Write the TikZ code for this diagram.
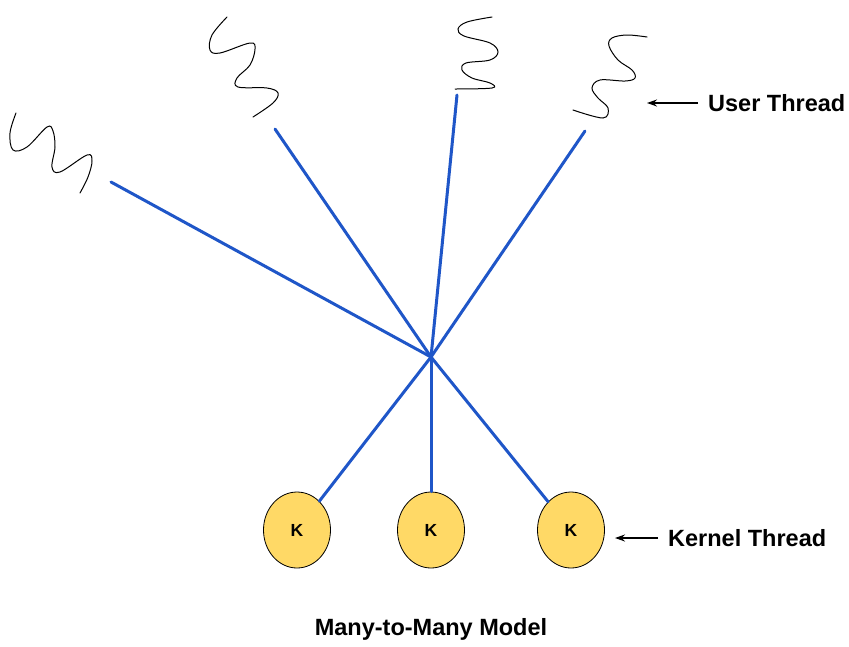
\documentclass[tikz,border=0pt]{standalone}
\usepackage{fontspec}
\setmainfont{Liberation Sans}
\usetikzlibrary{shapes.geometric,arrows.meta}
\definecolor{linkblue}{HTML}{1F56C8}
\definecolor{kyellow}{HTML}{FFD966}

\begin{document}
\begin{tikzpicture}[x=1pt,y=-1pt,
    kthread/.style={ellipse,draw,line width=0.8pt,fill=kyellow,minimum width=67pt,minimum height=76pt,inner sep=0pt,font=\fontsize{17.5}{20}\selectfont\bfseries},
    link/.style={linkblue,line width=3pt,line cap=round},
    squiggle/.style={line width=1pt,line cap=round},
    pointer/.style={-{Stealth[length=10pt,width=7pt]},line width=1.5pt},
    lbl/.style={font=\fontsize{23.5}{28}\selectfont\bfseries,inner sep=0pt}]
    \useasboundingbox (0,0) rectangle (849,646);
    % user threads
    \draw[squiggle] plot[smooth,tension=0.6] coordinates {(16,113) (10,133) (13,150) (27,147) (47,127) (53,131) (55,147) (52,167) (60,172) (87,155) (92,161) (88,177) (80,193)};
    \draw[squiggle] plot[smooth,tension=0.6] coordinates {(227,17) (212,35) (210,50) (220,53) (250,43) (255,49) (250,65) (237,78) (238,87) (267,88) (278,93) (273,103) (253,117)};
    \draw[squiggle] plot[smooth,tension=0.6] coordinates {(492,17) (467,22) (458,29) (464,36) (490,43) (498,52) (490,60) (466,63) (462,70) (472,78) (490,83) (492,88) (455,89)};
    \draw[squiggle] plot[smooth,tension=0.6] coordinates {(647,37) (627,35) (612,38) (609,46) (618,60) (632,70) (635,78) (625,81) (600,80) (592,88) (598,98) (608,108) (603,118) (573,110)};
    \coordinate (u1) at (111,182);
    \coordinate (u2) at (275,129);
    \coordinate (u3) at (457,95);
    \coordinate (u4) at (585,131);
    \coordinate (hub) at (431,357);
    % kernel threads
    \node[kthread] (k1) at (297,530) {K};
    \node[kthread] (k2) at (431,530) {K};
    \node[kthread] (k3) at (571,530) {K};
    \foreach \u in {u1,u2,u3,u4}
      \draw[link] (\u) -- (hub);
    \foreach \k in {k1,k2,k3}
      \draw[link] (hub) -- (\k);
    % labels
    \node[lbl,anchor=west] (userlbl) at (708,103) {User Thread};
    \coordinate (utip) at (647,103);
    \draw[pointer,shorten <=10pt] (userlbl.west) -- (utip);
    \node[lbl,anchor=west] (kernlbl) at (668,538) {Kernel Thread};
    \coordinate (ktip) at (615,538);
    \draw[pointer,shorten <=10pt] (kernlbl.west) -- (ktip);
    \node[lbl] (title) at (431,629) {Many-to-Many Model};
\end{tikzpicture}
\end{document}
